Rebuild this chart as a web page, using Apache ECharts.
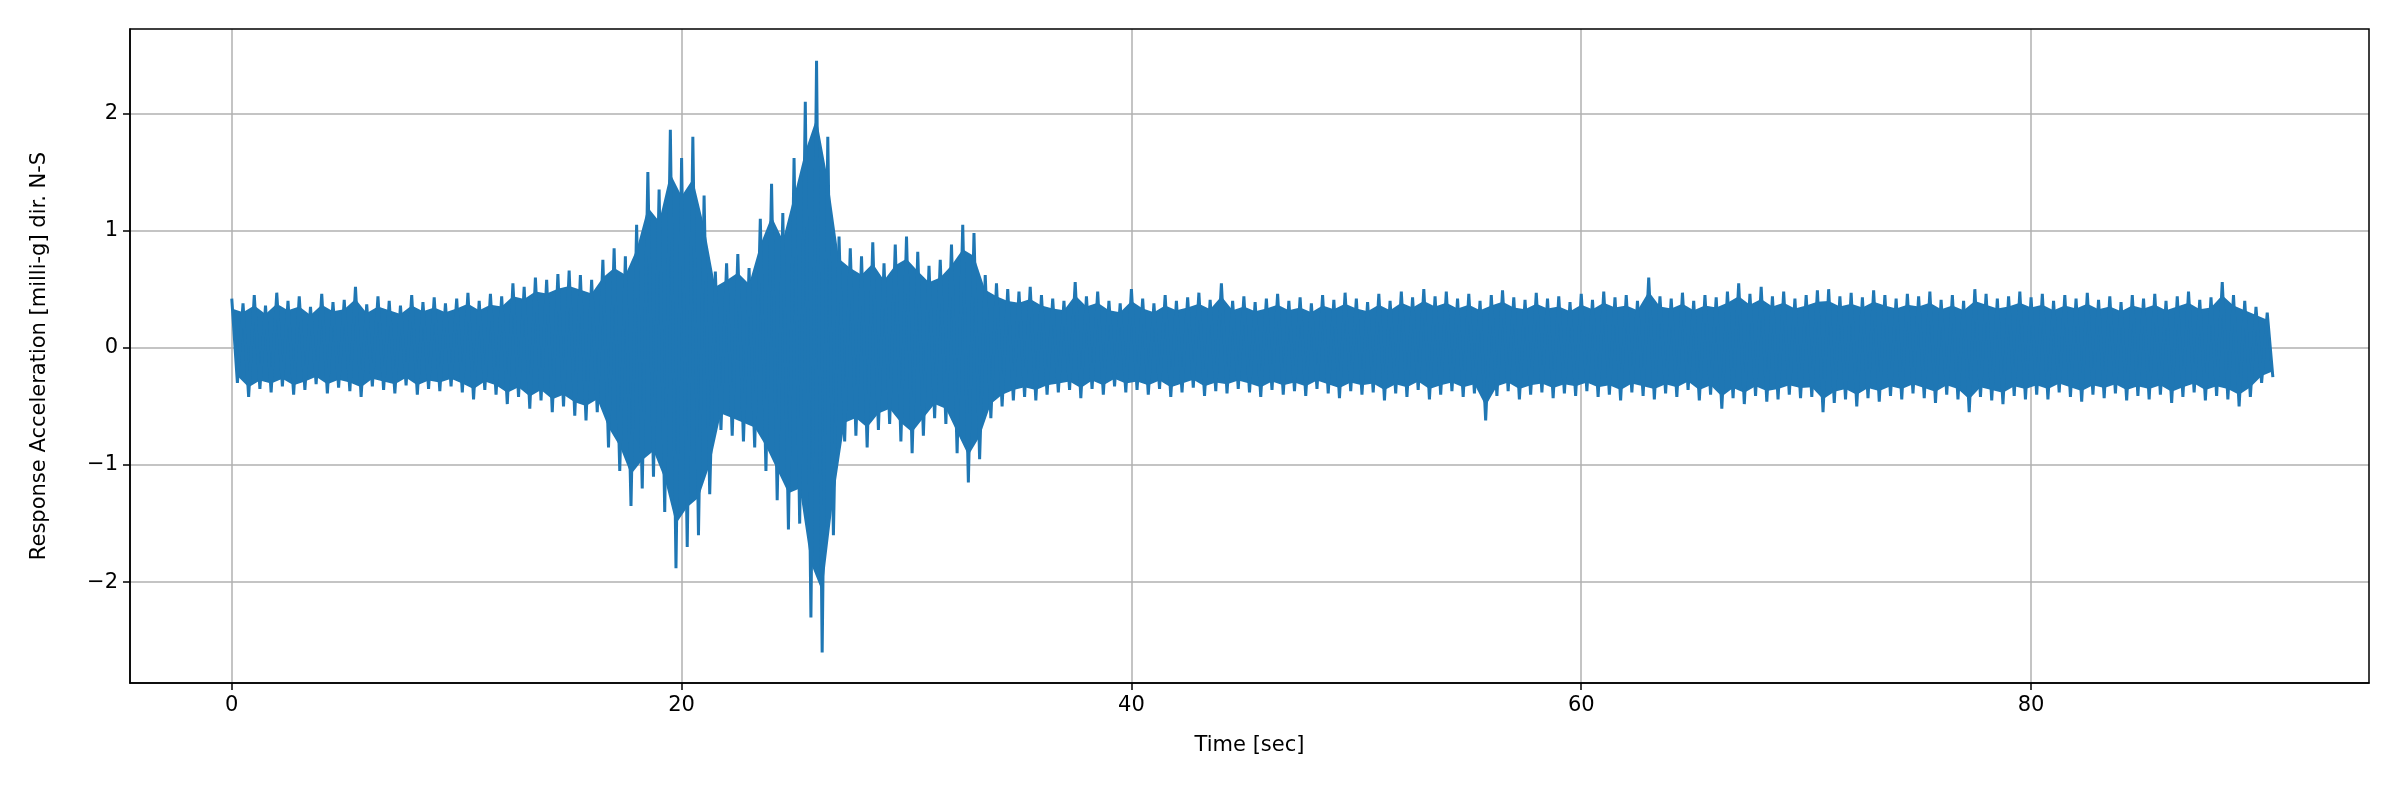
<!DOCTYPE html>
<html><head><meta charset="utf-8">
<script src="https://cdn.jsdelivr.net/npm/echarts@6/dist/echarts.min.js"></script>
<style>html,body{margin:0;padding:0;background:#fff}#c{width:2400px;height:800px}</style>
</head><body><div id="c"></div>
<script>
// Envelope peaks, every 0.5 s from t=0 to t=90.5
var upperPeaks = [
0.42,0.38,0.45,0.36,0.47,0.40,0.44,0.35,0.46,0.39,
0.41,0.52,0.37,0.44,0.40,0.36,0.45,0.39,0.43,0.38,
0.42,0.47,0.40,0.46,0.44,0.55,0.52,0.60,0.58,0.63,
0.66,0.62,0.58,0.75,0.85,0.78,1.05,1.50,1.35,1.86,
1.62,1.80,1.30,0.65,0.72,0.80,0.68,1.10,1.40,1.15,
1.62,2.10,2.45,1.80,0.95,0.85,0.78,0.90,0.72,0.88,
0.95,0.82,0.70,0.75,0.88,1.05,0.98,0.62,0.55,0.50,
0.48,0.52,0.45,0.42,0.40,0.56,0.44,0.48,0.40,0.38,
0.50,0.42,0.38,0.45,0.40,0.43,0.47,0.41,0.55,0.40,
0.44,0.39,0.42,0.46,0.40,0.43,0.38,0.45,0.41,0.47,
0.42,0.39,0.46,0.40,0.48,0.43,0.50,0.44,0.48,0.42,
0.46,0.40,0.45,0.49,0.43,0.41,0.47,0.42,0.44,0.39,
0.46,0.41,0.48,0.43,0.45,0.40,0.60,0.44,0.42,0.47,
0.40,0.45,0.43,0.48,0.55,0.46,0.52,0.44,0.48,0.42,
0.45,0.49,0.50,0.44,0.47,0.43,0.49,0.45,0.42,0.46,
0.44,0.48,0.41,0.45,0.40,0.50,0.46,0.42,0.44,0.48,
0.43,0.46,0.40,0.45,0.42,0.47,0.41,0.44,0.39,0.45,
0.42,0.46,0.40,0.44,0.48,0.41,0.43,0.56,0.45,0.40,
0.35,0.30];
var lowerPeaks = [
-0.30,-0.42,-0.35,-0.38,-0.33,-0.40,-0.36,-0.31,-0.39,-0.34,
-0.37,-0.42,-0.33,-0.36,-0.39,-0.32,-0.40,-0.35,-0.37,-0.33,
-0.38,-0.44,-0.36,-0.40,-0.48,-0.42,-0.52,-0.45,-0.55,-0.50,
-0.58,-0.62,-0.55,-0.85,-1.05,-1.35,-1.20,-1.10,-1.40,-1.88,
-1.70,-1.60,-1.25,-0.70,-0.75,-0.80,-0.85,-1.05,-1.30,-1.55,
-1.50,-2.30,-2.60,-1.60,-0.80,-0.75,-0.85,-0.70,-0.65,-0.80,
-0.90,-0.75,-0.60,-0.65,-0.90,-1.15,-0.95,-0.60,-0.50,-0.45,
-0.42,-0.45,-0.40,-0.38,-0.36,-0.43,-0.35,-0.40,-0.33,-0.38,
-0.36,-0.40,-0.35,-0.42,-0.38,-0.34,-0.41,-0.37,-0.39,-0.35,
-0.38,-0.42,-0.36,-0.40,-0.37,-0.41,-0.35,-0.39,-0.43,-0.37,
-0.40,-0.38,-0.45,-0.39,-0.42,-0.36,-0.44,-0.40,-0.37,-0.42,
-0.39,-0.62,-0.41,-0.37,-0.44,-0.40,-0.38,-0.43,-0.39,-0.41,
-0.37,-0.42,-0.40,-0.45,-0.38,-0.41,-0.44,-0.39,-0.42,-0.36,
-0.45,-0.40,-0.52,-0.43,-0.48,-0.41,-0.46,-0.44,-0.40,-0.43,
-0.42,-0.55,-0.47,-0.44,-0.50,-0.43,-0.46,-0.41,-0.44,-0.39,
-0.43,-0.47,-0.40,-0.44,-0.55,-0.42,-0.45,-0.48,-0.41,-0.44,
-0.40,-0.44,-0.38,-0.42,-0.46,-0.40,-0.43,-0.39,-0.45,-0.41,
-0.44,-0.40,-0.47,-0.42,-0.38,-0.45,-0.41,-0.44,-0.50,-0.42,
-0.30,-0.25];
var xTicks = [0,20,40,60,80];
var yTicks = [-2,-1,0,1,2];
var step = 0.5;

var zig = [];
for (var i = 0; i < upperPeaks.length; i++) {
  zig.push([i*step, upperPeaks[i]]);
  zig.push([i*step + step/2, lowerPeaks[i]]);
}
var font = 'DejaVu Sans';
var blue = '#1f77b4';
var chart = echarts.init(document.getElementById('c'));
chart.setOption({
  animation:false,
  grid:{left:130,right:31,top:29,bottom:117,containLabel:false},
  xAxis:{type:'value',min:-4.525,max:95.025,
    name:'Time [sec]',nameLocation:'middle',nameGap:52,
    nameTextStyle:{fontFamily:font,fontSize:21,color:'#000'},
    axisLine:{onZero:false,lineStyle:{color:'#000',width:1.5}},
    axisTick:{customValues:xTicks,length:7,lineStyle:{color:'#000',width:1.5}},
    axisLabel:{customValues:xTicks,fontFamily:font,fontSize:21,color:'#000',margin:12},
    splitLine:{show:true,lineStyle:{color:'#b0b0b0',width:1.5}}},
  yAxis:{type:'value',min:-2.86,max:2.72,
    name:'Response Acceleration [milli-g] dir. N-S',nameLocation:'middle',nameGap:80,
    nameTextStyle:{fontFamily:font,fontSize:21,color:'#000'},
    axisLine:{show:true,onZero:false,lineStyle:{color:'#000',width:1.5}},
    axisTick:{show:true,customValues:yTicks,length:7,lineStyle:{color:'#000',width:1.5}},
    axisLabel:{customValues:yTicks,fontFamily:font,fontSize:21,color:'#000',margin:12,
      formatter:function(v){return v<0?'\u2212'+Math.abs(v):String(v);}},
    splitLine:{show:true,lineStyle:{color:'#b0b0b0',width:1.5}}},
  series:[
    {type:'custom',silent:true,data:[[0,0]],
      renderItem:function(params, api){
        var pts = [], i;
        for (i = 0; i < upperPeaks.length; i++) pts.push(api.coord([i*step, upperPeaks[i]*0.8]));
        for (i = lowerPeaks.length-1; i >= 0; i--) pts.push(api.coord([i*step + step/2, lowerPeaks[i]*0.8]));
        return {type:'polygon',shape:{points:pts},style:{fill:blue}};
      }},
    {type:'line',data:zig,showSymbol:false,lineStyle:{color:blue,width:3},itemStyle:{color:blue}}
  ],
  graphic:[{type:'rect',shape:{x:130,y:29,width:2400-130-31,height:800-29-117},
    style:{fill:'none',stroke:'#000',lineWidth:1.5},silent:true,z:100}]
});
</script></body></html>
